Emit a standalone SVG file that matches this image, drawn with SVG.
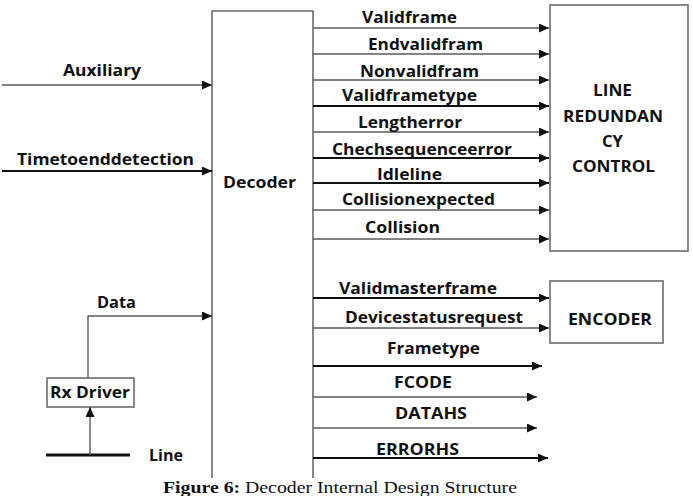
<svg xmlns="http://www.w3.org/2000/svg" width="693" height="496" viewBox="0 0 693 496">
  <style>
    .lbl { font-family: "Open Sans", "Liberation Sans", sans-serif; font-weight: bold; font-size: 16px; fill: #111; }
    .box { fill: #fff; stroke: #6b6b6b; stroke-width: 1.6; }
    .w { fill: none; stroke: #5a5a5a; stroke-width: 1.4; }
    .k { fill: none; stroke: #111; stroke-width: 2; }
    .cap { font-family: "Liberation Serif", "Times New Roman", serif; font-size: 16px; fill: #111; }
  </style>
  <defs>
    <marker id="ah" markerUnits="userSpaceOnUse" markerWidth="11" markerHeight="9" refX="10" refY="4.5" orient="auto">
      <path d="M0,0 L10,4.5 L0,9 Z" fill="#111"/>
    </marker>
  </defs>
  <rect width="693" height="496" fill="#fff"/>

  <!-- Decoder block (open at the bottom) -->
  <g id="decoder">
    <path d="M212,478 V11 H313 V478" fill="#fff" stroke="#6b6b6b" stroke-width="1.6"/>
    <text class="lbl" x="223" y="188" textLength="73" lengthAdjust="spacingAndGlyphs">Decoder</text>
  </g>

  <!-- Line redundancy control -->
  <g id="lrc">
    <rect class="box" x="550" y="5" width="138" height="246"/>
    <text class="lbl" x="593" y="96" textLength="39" lengthAdjust="spacingAndGlyphs">LINE</text>
    <text class="lbl" x="563" y="122" textLength="100" lengthAdjust="spacingAndGlyphs">REDUNDAN</text>
    <text class="lbl" x="602" y="147" textLength="21" lengthAdjust="spacingAndGlyphs">CY</text>
    <text class="lbl" x="572" y="172" textLength="83" lengthAdjust="spacingAndGlyphs">CONTROL</text>
  </g>

  <!-- Encoder -->
  <g id="encoder">
    <rect class="box" x="550" y="281" width="113" height="62"/>
    <text class="lbl" x="568" y="325" textLength="84" lengthAdjust="spacingAndGlyphs">ENCODER</text>
  </g>

  <!-- Receiver driver -->
  <g id="rxdriver">
    <rect class="box" x="47" y="378" width="87" height="29"/>
    <text class="lbl" x="50" y="398" textLength="80" lengthAdjust="spacingAndGlyphs">Rx Driver</text>
  </g>

  <!-- Bus line -->
  <g id="line">
    <line x1="46" y1="455" x2="130" y2="455" stroke="#111" stroke-width="3.2"/>
    <text class="lbl" x="149" y="461" textLength="34" lengthAdjust="spacingAndGlyphs">Line</text>
  </g>

  <!-- Connectors -->
  <g id="connectors">
    <!-- inputs -->
    <line class="w" x1="2" y1="85" x2="212" y2="85" marker-end="url(#ah)"/>
    <line class="k" x1="2" y1="171" x2="212" y2="171" marker-end="url(#ah)"/>
    <polyline class="w" points="88,378 88,316 212,316" marker-end="url(#ah)"/>
    <line class="w" x1="90" y1="455" x2="90" y2="407" marker-end="url(#ah)"/>
    <!-- outputs to line redundancy control -->
    <line class="w" x1="313" y1="28" x2="549" y2="28" marker-end="url(#ah)"/>
    <line class="w" x1="313" y1="54" x2="549" y2="54" marker-end="url(#ah)"/>
    <line class="w" x1="313" y1="80" x2="549" y2="80" marker-end="url(#ah)"/>
    <line class="k" x1="313" y1="106" x2="549" y2="106" marker-end="url(#ah)" stroke-width="1.7"/>
    <line class="w" x1="313" y1="132" x2="549" y2="132" marker-end="url(#ah)"/>
    <line class="k" x1="313" y1="158" x2="549" y2="158" marker-end="url(#ah)" stroke-width="1.7"/>
    <line class="k" x1="313" y1="183" x2="549" y2="183" marker-end="url(#ah)" stroke-width="1.7"/>
    <line class="w" x1="313" y1="210" x2="549" y2="210" marker-end="url(#ah)"/>
    <line class="w" x1="313" y1="239" x2="549" y2="239" marker-end="url(#ah)"/>
    <!-- outputs to encoder -->
    <line class="k" x1="313" y1="298" x2="549" y2="298" marker-end="url(#ah)"/>
    <line class="w" x1="313" y1="328" x2="549" y2="328" marker-end="url(#ah)"/>
    <!-- further outputs -->
    <line class="k" x1="313" y1="366" x2="542" y2="366" marker-end="url(#ah)" stroke-width="1.7"/>
    <line class="w" x1="313" y1="397" x2="537" y2="397" marker-end="url(#ah)"/>
    <line class="w" x1="313" y1="428" x2="537" y2="428" marker-end="url(#ah)"/>
    <line class="k" x1="313" y1="458" x2="548" y2="458" marker-end="url(#ah)" stroke-width="1.7"/>
  </g>

  <!-- Signal labels -->
  <g id="labels">
    <text class="lbl" x="63" y="76" textLength="78" lengthAdjust="spacingAndGlyphs">Auxiliary</text>
    <text class="lbl" x="17" y="165" textLength="177" lengthAdjust="spacingAndGlyphs">Timetoenddetection</text>
    <text class="lbl" x="97" y="308" textLength="39" lengthAdjust="spacingAndGlyphs">Data</text>
    <text class="lbl" x="362" y="23" textLength="95" lengthAdjust="spacingAndGlyphs">Validframe</text>
    <text class="lbl" x="368" y="50" textLength="115" lengthAdjust="spacingAndGlyphs">Endvalidfram</text>
    <text class="lbl" x="360" y="77" textLength="119" lengthAdjust="spacingAndGlyphs">Nonvalidfram</text>
    <text class="lbl" x="342" y="101" textLength="135" lengthAdjust="spacingAndGlyphs">Validframetype</text>
    <text class="lbl" x="358" y="128" textLength="104" lengthAdjust="spacingAndGlyphs">Lengtherror</text>
    <text class="lbl" x="332" y="155" textLength="180" lengthAdjust="spacingAndGlyphs">Chechsequenceerror</text>
    <text class="lbl" x="377" y="180" textLength="65" lengthAdjust="spacingAndGlyphs">Idleline</text>
    <text class="lbl" x="342" y="205" textLength="153" lengthAdjust="spacingAndGlyphs">Collisionexpected</text>
    <text class="lbl" x="365" y="233" textLength="75" lengthAdjust="spacingAndGlyphs">Collision</text>
    <text class="lbl" x="339" y="294" textLength="158" lengthAdjust="spacingAndGlyphs">Validmasterframe</text>
    <text class="lbl" x="345" y="323" textLength="178" lengthAdjust="spacingAndGlyphs">Devicestatusrequest</text>
    <text class="lbl" x="387" y="354" textLength="93" lengthAdjust="spacingAndGlyphs">Frametype</text>
    <text class="lbl" x="394" y="388" textLength="58" lengthAdjust="spacingAndGlyphs">FCODE</text>
    <text class="lbl" x="395" y="419" textLength="72" lengthAdjust="spacingAndGlyphs">DATAHS</text>
    <text class="lbl" x="376" y="455" textLength="83" lengthAdjust="spacingAndGlyphs">ERRORHS</text>
  </g>

  <!-- Caption -->
  <text class="cap" x="163" y="493" textLength="354" lengthAdjust="spacingAndGlyphs"><tspan font-weight="bold">Figure 6:</tspan> Decoder Internal Design Structure</text>
</svg>
